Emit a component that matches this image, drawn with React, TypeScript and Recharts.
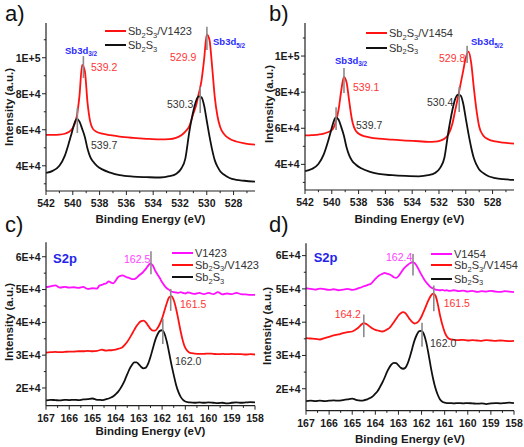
import React from "react";
import { LineChart, Line, XAxis, YAxis, ReferenceLine } from "recharts";

// binding energy grids (eV)
const sbEnergy = [
  542, 541.5, 541, 540.6, 540.3, 540.1, 539.9, 539.7, 539.5, 539.3, 539.1, 538.9, 538.7, 538.5,
  538.2, 537.8, 537.2, 536.5, 535.5, 534.5, 533.5, 532.8, 532.3, 531.9, 531.6, 531.3, 531.0,
  530.8, 530.6, 530.4, 530.2, 530.0, 529.8, 529.6, 529.4, 529.2, 529.0, 528.7, 528.3, 527.8,
  527.2, 526.4,
];
const sEnergy = [
  167.0, 166.8, 166.6, 166.4, 166.2, 166.0, 165.8, 165.6, 165.4, 165.2, 165.0, 164.8,
  164.7, 164.6, 164.5, 164.4, 164.3, 164.2, 164.1, 164.0, 163.9, 163.8, 163.7, 163.6, 163.5,
  163.4, 163.3, 163.2, 163.1, 163.0, 162.9, 162.8, 162.7, 162.6, 162.5, 162.4, 162.3, 162.2,
  162.1, 162.0, 161.9, 161.8, 161.7, 161.6, 161.5, 161.4, 161.3, 161.2, 161.1, 161.0, 160.9,
  160.8, 160.6, 160.4, 160.2, 160.0, 159.8, 159.6, 159.4, 159.2, 159.0, 158.8, 158.6, 158.4,
  158.2, 158.0,
];

// intensities, in units of 1E+4
const aHybrid = [
  5.72, 5.72, 5.73, 5.78, 5.88, 6.0, 6.25, 6.75, 7.9, 9.6, 9.25, 7.5, 6.45, 6.05, 5.88, 5.78,
  5.7, 5.62, 5.55, 5.5, 5.47, 5.48, 5.55, 5.7, 5.9, 6.2, 6.9, 7.35, 8.0, 8.7, 9.9, 11.3, 11.0,
  9.5, 7.8, 6.75, 6.15, 5.75, 5.5, 5.35, 5.25, 5.17,
];
const aBare = [
  3.6, 3.72, 4.0, 4.55, 5.25, 5.77, 6.3, 6.6, 6.45, 6.05, 5.6, 4.95, 4.5, 4.25, 4.0, 3.8, 3.62,
  3.48, 3.4, 3.37, 3.35, 3.42, 3.55, 3.85, 4.4, 5.9, 7.05, 7.6, 7.85, 7.8, 7.35, 6.5, 5.65, 4.9,
  4.3, 3.95, 3.7, 3.5, 3.32, 3.22, 3.17, 3.12,
];
const bHybrid = [
  5.6, 5.62, 5.65, 5.7, 5.78, 5.85, 5.98, 6.35, 7.0, 8.05, 8.85, 8.55, 7.5, 6.5, 5.85, 5.62,
  5.5, 5.42, 5.37, 5.32, 5.28, 5.25, 5.26, 5.32, 5.42, 5.65, 6.25, 6.95, 7.65, 8.4, 9.15, 9.9,
  10.25, 9.65, 8.25, 7.0, 6.1, 5.6, 5.38, 5.27, 5.2, 5.15,
];
const bBare = [
  3.62, 3.74, 4.02, 4.55, 5.22, 5.75, 6.28, 6.6, 6.48, 6.08, 5.6, 4.95, 4.5, 4.22, 3.98, 3.78,
  3.6, 3.47, 3.4, 3.36, 3.34, 3.4, 3.52, 3.82, 4.35, 5.8, 7.0, 7.6, 7.85, 7.82, 7.4, 6.55, 5.7,
  4.95, 4.35, 3.98, 3.72, 3.52, 3.34, 3.24, 3.18, 3.14,
];
const cPolymer = [
  5.07, 5.1, 5.13, 5.06, 5.08, 5.06, 5.07, 5.05, 5.08, 5.02, 5.04, 5.03,
  5.12, 5.14, 5.17, 5.19, 5.25, 5.21, 5.19, 5.27, 5.38, 5.42, 5.43, 5.4, 5.37, 5.35, 5.32,
  5.32, 5.36, 5.43, 5.48, 5.55, 5.63, 5.73, 5.8, 5.73, 5.58, 5.46, 5.35, 5.22, 5.12, 5.04,
  4.99, 4.94, 4.92, 4.91, 4.9, 4.92, 4.9, 4.88, 4.91,
  4.9, 4.87, 4.9, 4.86, 4.9, 4.86, 4.92, 4.85, 4.88, 4.86, 4.9, 4.86, 4.85, 4.84, 4.84,
];
const cHybrid = [
  3.08, 3.09, 3.1, 3.09, 3.1, 3.11, 3.11, 3.12, 3.12, 3.13, 3.12, 3.13,
  3.15, 3.17, 3.15, 3.14, 3.15, 3.15, 3.16, 3.17, 3.19, 3.21, 3.25, 3.32, 3.41, 3.52, 3.64,
  3.77, 3.89, 3.98, 4.04, 4.05, 4.0, 3.9, 3.8, 3.75, 3.75, 3.82, 3.95, 4.12, 4.35, 4.58, 4.76,
  4.8, 4.68, 4.42, 4.08, 3.72, 3.42, 3.22, 3.12,
  3.07, 3.05, 3.04, 3.04, 3.05, 3.04, 3.03, 3.04, 3.03, 3.04, 3.03, 3.03, 3.02, 3.03, 3.02,
];
const cBare = [
  1.62, 1.64, 1.63, 1.62, 1.64, 1.63, 1.64, 1.63, 1.65, 1.66, 1.68, 1.64,
  1.64, 1.63, 1.64, 1.66, 1.68, 1.71, 1.75, 1.81, 1.88, 1.98, 2.1, 2.25, 2.42, 2.58, 2.7, 2.78,
  2.78, 2.72, 2.64, 2.6, 2.62, 2.74, 2.95, 3.2, 3.45, 3.63, 3.74, 3.76, 3.66, 3.42, 3.08, 2.72,
  2.4, 2.1, 1.88, 1.73, 1.64, 1.59, 1.57,
  1.56, 1.55, 1.56, 1.55, 1.56, 1.55, 1.54, 1.55, 1.53, 1.55, 1.56, 1.55, 1.56, 1.57, 1.56,
];
const dPolymer = [
  5.02, 5.0, 4.98, 5.01, 4.99, 4.97, 4.99, 4.96, 4.98, 5.0, 4.97, 5.0,
  5.03, 5.05, 5.08, 5.1, 5.13, 5.15, 5.22, 5.3, 5.37, 5.42, 5.45, 5.48, 5.46, 5.44, 5.4, 5.35,
  5.33, 5.38, 5.48, 5.58, 5.66, 5.72, 5.77, 5.8, 5.78, 5.68, 5.55, 5.42, 5.3, 5.2, 5.12, 5.05,
  5.01, 4.98, 4.97, 4.96, 4.97, 4.95, 4.96,
  4.94, 4.96, 4.93, 4.95, 4.92, 4.94, 4.91, 4.93, 4.92, 4.94, 4.92, 4.91, 4.93, 4.92, 4.9,
];
const dHybrid = [
  3.52, 3.51, 3.5, 3.48, 3.52, 3.56, 3.6, 3.63, 3.67, 3.7, 3.72, 3.8,
  3.86, 3.93, 3.97, 3.95, 3.9, 3.85, 3.8, 3.77, 3.75, 3.73, 3.72, 3.74, 3.78, 3.82, 3.9, 4.0,
  4.1, 4.2, 4.27, 4.3, 4.27, 4.18, 4.08, 4.0, 3.96, 3.98, 4.05, 4.17, 4.33, 4.5, 4.66, 4.79,
  4.86, 4.8, 4.55, 4.2, 3.92, 3.7, 3.56,
  3.5, 3.47, 3.46, 3.47, 3.45, 3.46, 3.45, 3.44, 3.46, 3.45, 3.44, 3.45, 3.44, 3.43, 3.44,
];
const dBare = [
  1.63, 1.64, 1.63, 1.64, 1.63, 1.64, 1.65, 1.64, 1.66, 1.68, 1.7, 1.66,
  1.65, 1.64, 1.65, 1.67, 1.7, 1.73, 1.78, 1.85, 1.93, 2.05, 2.18, 2.33, 2.5, 2.63, 2.73, 2.78,
  2.77, 2.7, 2.63, 2.6, 2.63, 2.76, 2.97, 3.22, 3.46, 3.63, 3.73, 3.74, 3.64, 3.4, 3.05, 2.65,
  2.3, 2.02, 1.82, 1.68, 1.61, 1.58, 1.57,
  1.57, 1.56, 1.57, 1.56, 1.57, 1.56, 1.55, 1.56, 1.54, 1.56, 1.57, 1.56, 1.57, 1.58, 1.57,
];

// axis ticks
const sbXMajor = [542, 540, 538, 536, 534, 532, 530, 528];
const sbXMinor = [541, 539, 537, 535, 533, 531, 529, 527];
const sXMajor = [167, 166, 165, 164, 163, 162, 161, 160, 159, 158];
const sXMinor = [166.5, 165.5, 164.5, 163.5, 162.5, 161.5, 160.5, 159.5, 158.5];
const sbYMajor = [4, 6, 8, 10];
const sbYMinor = [3, 5, 7, 9, 11];
const sYMajor = [2, 3, 4, 5, 6];
const sYMinor = [2.5, 3.5, 4.5, 5.5];

const FONT = '"Liberation Sans", Arial, Helvetica, sans-serif';
const RED = "#ff1212";
const BLACK = "#111111";
const MAGENTA = "#ff10ff";
const MARK = "#8a8a8a";
const axisStyle = { stroke: "#222", strokeWidth: 1.2 };

const fmtY = (v: number) => (v >= 10 ? `${v / 10}E+5` : `${v}E+4`);

function XTick(props: any) {
  const { x, y, payload, majors, showLabel } = props;
  const major = majors.includes(payload.value);
  return (
    <g>
      <line x1={x} y1={y} x2={x} y2={y + (major ? 4 : 2.2)} stroke="#222" strokeWidth={1} />
      {showLabel && major && (
        <text x={x} y={y + 16} textAnchor="middle" fontSize={10.5} fontWeight={700} fontFamily={FONT} fill="#1a1a1a">
          {payload.value}
        </text>
      )}
    </g>
  );
}

function YTick(props: any) {
  const { x, y, payload, majors, showLabel } = props;
  const major = majors.includes(payload.value);
  return (
    <g>
      <line x1={x} y1={y} x2={x - (major ? 4 : 2.2)} y2={y} stroke="#222" strokeWidth={1} />
      {showLabel && major && (
        <text x={x - 5.5} y={y + 3.8} textAnchor="end" fontSize={10.5} fontWeight={700} fontFamily={FONT} fill="#1a1a1a">
          {fmtY(payload.value)}
        </text>
      )}
    </g>
  );
}

type Series = { key: string; color: string; values: number[] };
type Mark = { e: number; y0: number; y1: number };

function Panel(p: any) {
  const { left, top, width, height, plot, energy, series, xDomain, xMajor, xMinor, yDomain, yMajor, yMinor, marks } = p;
  const data = energy.map((e: number, i: number) => {
    const row: any = { e };
    series.forEach((s: Series) => (row[s.key] = s.values[i]));
    return row;
  });
  const xTicks = [...xMajor, ...xMinor].sort((a, b) => a - b);
  const yTicks = [...yMajor, ...yMinor].sort((a, b) => a - b);
  const common = { tickSize: 0, tickMargin: 0, tickLine: false, axisLine: axisStyle, interval: 0 as const, allowDataOverflow: true };
  return (
    <div style={{ position: "absolute", left, top }}>
      <LineChart width={width} height={height} data={data} margin={{ top: plot.t, right: width - plot.r, bottom: 0, left: 0 }}>
        <XAxis {...common} xAxisId={0} dataKey="e" type="number" domain={xDomain} reversed ticks={xTicks}
          height={height - plot.b} tick={(t: any) => <XTick {...t} majors={xMajor} showLabel />} />
        <XAxis {...common} xAxisId="top" orientation="top" dataKey="e" type="number" domain={xDomain} reversed ticks={xTicks}
          height={0} tick={(t: any) => <XTick {...t} majors={xMajor} />} />
        <YAxis {...common} yAxisId={0} type="number" domain={yDomain} ticks={yTicks} width={plot.l}
          tick={(t: any) => <YTick {...t} majors={yMajor} showLabel />} />
        <YAxis {...common} yAxisId="right" orientation="right" type="number" domain={yDomain} ticks={yTicks} width={0}
          tick={(t: any) => <YTick {...t} majors={yMajor} />} />
        {series.map((s: Series) => (
          <Line key={s.key} type="monotone" dataKey={s.key} stroke={s.color} strokeWidth={1.8} dot={false} isAnimationActive={false} />
        ))}
        {marks.map((m: Mark, i: number) => (
          <ReferenceLine key={i} segment={[{ x: m.e, y: m.y0 }, { x: m.e, y: m.y1 }]} stroke={MARK} strokeWidth={1.6} />
        ))}
      </LineChart>
    </div>
  );
}

const Sub = ({ children }: any) => (
  <span style={{ fontSize: "0.68em", position: "relative", top: "0.35em" }}>{children}</span>
);

function Txt({ x, y, children, color = "#333", size = 10.5, bold = false, center = false }: any) {
  return (
    <div style={{
      position: "absolute", left: x, top: y, color, fontSize: size, fontWeight: bold ? 700 : 400,
      whiteSpace: "nowrap", lineHeight: 1, transform: center ? "translate(-50%,-50%)" : "translateY(-50%)",
    }}>
      {children}
    </div>
  );
}

function YTitle({ x, y }: any) {
  return (
    <div style={{
      position: "absolute", left: x, top: y, fontSize: 11.5, fontWeight: 700, color: "#1a1a1a",
      whiteSpace: "nowrap", lineHeight: 1, transform: "translate(-50%,-50%) rotate(-90deg)",
    }}>
      Intensity (a.u.)
    </div>
  );
}

function Leg({ x, y, color, children }: any) {
  return (
    <>
      <div style={{ position: "absolute", left: x, top: y - 1, width: 21, height: 2, background: color }} />
      <Txt x={x + 23} y={y} color="#333" size={11}>{children}</Txt>
    </>
  );
}

const SbS = () => (<>Sb<Sub>2</Sub>S<Sub>3</Sub></>);

export default function App() {
  return (
    <div style={{ position: "absolute", left: 0, top: 0, width: 524, height: 447, background: "#fff", fontFamily: FONT, overflow: "hidden" }}>
      <Panel left={0} top={0} width={272} height={232} plot={{ l: 46, t: 23, r: 255, b: 191 }}
        energy={sbEnergy} xDomain={[526.4, 542]} xMajor={sbXMajor} xMinor={sbXMinor}
        yDomain={[2.6, 11.93]} yMajor={sbYMajor} yMinor={sbYMinor}
        series={[{ key: "hyb", color: RED, values: aHybrid }, { key: "bare", color: BLACK, values: aBare }]}
        marks={[{ e: 539.21, y0: 8.87, y1: 10.09 }, { e: 529.99, y0: 10.43, y1: 11.72 }, { e: 539.66, y0: 5.82, y1: 7.21 }, { e: 530.49, y0: 6.93, y1: 8.37 }]} />
      <Panel left={262} top={0} width={262} height={232} plot={{ l: 43, t: 23, r: 252, b: 190 }}
        energy={sbEnergy} xDomain={[526.4, 542]} xMajor={sbXMajor} xMinor={sbXMinor}
        yDomain={[2.58, 11.83]} yMajor={sbYMajor} yMinor={sbYMinor}
        series={[{ key: "hyb", color: RED, values: bHybrid }, { key: "bare", color: BLACK, values: bBare }]}
        marks={[{ e: 539.09, y0: 7.95, y1: 9.34 }, { e: 529.9, y0: 9.61, y1: 10.57 }, { e: 539.68, y0: 5.9, y1: 7.17 }, { e: 530.49, y0: 6.9, y1: 8.28 }]} />
      <Panel left={0} top={224} width={272} height={223} plot={{ l: 46, t: 18.3, r: 255, b: 181.7 }}
        energy={sEnergy} xDomain={[158, 167]} xMajor={sXMajor} xMinor={sXMinor}
        yDomain={[1.46, 6.44]} yMajor={sYMajor} yMinor={sYMinor}
        series={[{ key: "pol", color: MAGENTA, values: cPolymer }, { key: "hyb", color: RED, values: cHybrid }, { key: "bare", color: BLACK, values: cBare }]}
        marks={[{ e: 162.48, y0: 5.47, y1: 6.17 }, { e: 161.63, y0: 4.35, y1: 5.02 }, { e: 161.97, y0: 3.34, y1: 4.1 }]} />
      <Panel left={262} top={224} width={262} height={223} plot={{ l: 44, t: 19.3, r: 252, b: 186.7 }}
        energy={sEnergy} xDomain={[158, 167]} xMajor={sXMajor} xMinor={sXMinor}
        yDomain={[1.34, 6.37]} yMajor={sYMajor} yMinor={sYMinor}
        series={[{ key: "pol", color: MAGENTA, values: dPolymer }, { key: "hyb", color: RED, values: dHybrid }, { key: "bare", color: BLACK, values: dBare }]}
        marks={[{ e: 162.37, y0: 5.4, y1: 6.05 }, { e: 161.47, y0: 4.33, y1: 5.1 }, { e: 164.5, y0: 3.55, y1: 4.23 }, { e: 161.98, y0: 3.26, y1: 3.98 }]} />

      {/* panel letters */}
      <Txt x={5} y={14} size={22} color="#111" >a)</Txt>
      <Txt x={269} y={14} size={22} color="#111">b)</Txt>
      <Txt x={5} y={225} size={22} color="#111">c)</Txt>
      <Txt x={269} y={225} size={22} color="#111">d)</Txt>

      {/* axis titles */}
      <YTitle x={10} y={107} />
      <YTitle x={270} y={104} />
      <YTitle x={10} y={322} />
      <YTitle x={268} y={326} />
      <Txt x={150.5} y={220} center bold size={11.5} color="#1a1a1a">Binding Energy (eV)</Txt>
      <Txt x={409.5} y={220} center bold size={11.5} color="#1a1a1a">Binding Energy (eV)</Txt>
      <Txt x={150.5} y={432} center bold size={11.5} color="#1a1a1a">Binding Energy (eV)</Txt>
      <Txt x={410} y={440} center bold size={11.5} color="#1a1a1a">Binding Energy (eV)</Txt>

      {/* legends */}
      <Leg x={105} y={31} color={RED}><SbS />/V1423</Leg>
      <Leg x={105} y={45} color={BLACK}><SbS /></Leg>
      <Leg x={366} y={33} color={RED}><SbS />/V1454</Leg>
      <Leg x={366} y={47.5} color={BLACK}><SbS /></Leg>
      <Leg x={172} y={252.5} color={MAGENTA}>V1423</Leg>
      <Leg x={172} y={264.5} color={RED}><SbS />/V1423</Leg>
      <Leg x={172} y={277} color={BLACK}><SbS /></Leg>
      <Leg x={431} y={253.5} color={MAGENTA}>V1454</Leg>
      <Leg x={431} y={265} color={RED}><SbS />/V1454</Leg>
      <Leg x={431} y={278.5} color={BLACK}><SbS /></Leg>

      {/* annotations a */}
      <Txt x={65} y={50.5} bold size={9.5} color="#2b2bff">Sb3d<Sub>3/2</Sub></Txt>
      <Txt x={91} y={66.7} color="#ff3535">539.2</Txt>
      <Txt x={213} y={42.3} bold size={9.5} color="#2b2bff">Sb3d<Sub>5/2</Sub></Txt>
      <Txt x={170} y={56.7} color="#ff3535">529.9</Txt>
      <Txt x={91} y={145.3}>539.7</Txt>
      <Txt x={167} y={104.3}>530.3</Txt>
      {/* annotations b */}
      <Txt x={335} y={60.5} bold size={9.5} color="#2b2bff">Sb3d<Sub>3/2</Sub></Txt>
      <Txt x={353} y={87.3} color="#ff3535">539.1</Txt>
      <Txt x={471} y={42.3} bold size={9.5} color="#2b2bff">Sb3d<Sub>5/2</Sub></Txt>
      <Txt x={439} y={58.3} color="#ff3535">529.8</Txt>
      <Txt x={356} y={125}>539.7</Txt>
      <Txt x={427} y={101.7}>530.4</Txt>
      {/* annotations c */}
      <Txt x={53} y={258.3} bold size={13} color="#2424e8">S2p</Txt>
      <Txt x={124} y={259} color="#ff40ff">162.5</Txt>
      <Txt x={180} y={304} color="#ff3535">161.5</Txt>
      <Txt x={175} y={360.7}>162.0</Txt>
      {/* annotations d */}
      <Txt x={313.7} y={257.3} bold size={13} color="#2424e8">S2p</Txt>
      <Txt x={386} y={256.7} color="#ff40ff">162.4</Txt>
      <Txt x={443.7} y={303} color="#ff3535">161.5</Txt>
      <Txt x={334.7} y={314} color="#ff3535">164.2</Txt>
      <Txt x={430} y={343}>162.0</Txt>
    </div>
  );
}
